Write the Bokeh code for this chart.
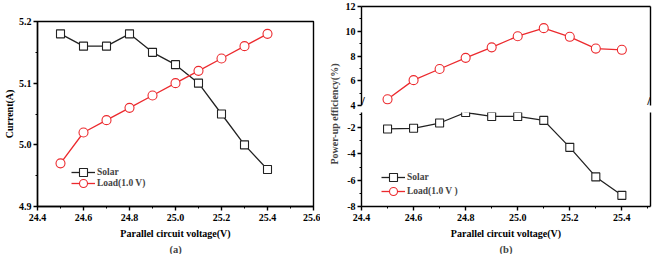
from bokeh.plotting import figure
from bokeh.models import (Range1d, LinearAxis, FixedTicker, Label, Legend, LegendItem,
                          NumeralTickFormatter, Title)
from bokeh.layouts import row, column
from bokeh.embed import file_html
from bokeh.resources import INLINE

# ---------------- data ----------------
voltage = [24.5, 24.6, 24.7, 24.8, 24.9, 25.0, 25.1, 25.2, 25.3, 25.4]
current_solar = [5.18, 5.16, 5.16, 5.18, 5.15, 5.13, 5.10, 5.05, 5.00, 4.96]
current_load = [4.97, 5.02, 5.04, 5.06, 5.08, 5.10, 5.12, 5.14, 5.16, 5.18]
eff_solar = [-2.1, -2.05, -1.65, -0.85, -1.15, -1.15, -1.45, -3.5, -5.75, -7.15]
eff_load = [4.5, 6.05, 6.95, 7.85, 8.7, 9.6, 10.25, 9.55, 8.6, 8.5]

x_ticks_a = [24.4, 24.6, 24.8, 25.0, 25.2, 25.4, 25.6]
x_minor_a = [24.5, 24.7, 24.9, 25.1, 25.3, 25.5]
y_ticks_a = [4.9, 5.0, 5.1, 5.2]
y_minor_a = [4.95, 5.05, 5.15]
x_ticks_b = [24.4, 24.6, 24.8, 25.0, 25.2, 25.4]
x_minor_b = [24.5, 24.7, 24.9, 25.1, 25.3, 25.5]
y_ticks_up = [4, 6, 8, 10, 12]
y_minor_up = [5, 7, 9, 11]
y_ticks_low = [-8, -6, -4, -2]
y_minor_low = [-7, -5, -3, -1]

series_names = ["Solar", "Load(1.0 V)"]
series_names_b = ["Solar", "Load(1.0 V )"]
x_title = "Parallel circuit voltage(V)"
y_title_a = "Current(A)"
y_title_b = "Power-up efficiency(%)"
panel_a = "(a)"
panel_b = "(b)"

# ---------------- style ----------------
FONT = "Liberation Serif"
BLACK = "#222222"
RED = "#ec2a2e"
LW = 1.3
AX_W = 1.4


def style_axis(ax, fmt=None):
    ax.axis_line_width = AX_W
    ax.axis_line_color = "black"
    ax.major_tick_line_color = "black"
    ax.major_tick_line_width = AX_W
    ax.minor_tick_line_color = "black"
    ax.minor_tick_line_width = 1
    ax.major_tick_in = 0
    ax.major_tick_out = 4
    ax.minor_tick_in = 0
    ax.minor_tick_out = 2
    ax.major_label_text_font = FONT
    ax.major_label_text_font_style = "bold"
    ax.major_label_text_font_size = "10px"
    ax.major_label_text_color = "black"
    ax.axis_label_text_font = FONT
    ax.axis_label_text_font_style = "bold"
    ax.axis_label_text_font_size = "10px"
    ax.axis_label_text_color = "black"
    if fmt is not None:
        ax.formatter = NumeralTickFormatter(format=fmt)


def blank_axis(p, side):
    ax = LinearAxis(ticker=FixedTicker(ticks=[]), major_label_text_font_size="0px",
                    major_tick_in=0, major_tick_out=0, minor_tick_in=0, minor_tick_out=0,
                    major_label_standoff=0, axis_line_width=AX_W, axis_line_color="black")
    p.add_layout(ax, side)
    return ax


def panel_title(text):
    return Title(text=text, align="center", text_font=FONT, text_font_style="bold",
                 text_font_size="10.5px", standoff=0, offset=0)


def one_legend(label, renderers, loc):
    return Legend(items=[LegendItem(label=label, renderers=renderers)],
                  location=loc, background_fill_alpha=0, border_line_color=None,
                  padding=0, margin=0, spacing=0, glyph_width=24, glyph_height=20,
                  label_height=20, label_standoff=2, label_text_font=FONT,
                  label_text_font_style="bold", label_text_font_size="9.5px")


# ---------------- chart (a) ----------------
pa = figure(width=320, height=254, x_range=Range1d(24.4, 25.6), y_range=Range1d(4.9, 5.2),
            output_backend="svg", toolbar_location=None,
            min_border_left=29, min_border_right=7, min_border_top=7, min_border_bottom=47)
pa.grid.visible = False
pa.outline_line_color = "black"
pa.outline_line_width = AX_W

pa.xaxis.ticker = FixedTicker(ticks=x_ticks_a, minor_ticks=x_minor_a)
pa.yaxis.ticker = FixedTicker(ticks=y_ticks_a, minor_ticks=y_minor_a)
for ax in pa.xaxis:
    style_axis(ax, "0.0")
    ax.axis_label = x_title
    ax.major_label_standoff = 3
    ax.axis_label_standoff = 4
for ax in pa.yaxis:
    style_axis(ax, "0.0")
    ax.axis_label = y_title_a
    ax.major_label_standoff = 2
    ax.axis_label_standoff = 1
pa.add_layout(panel_title(panel_a), "below")

ls_a = pa.line(voltage, current_solar, line_color=BLACK, line_width=LW)
ms_a = pa.scatter(voltage, current_solar, marker="square", size=8, line_color=BLACK,
                  fill_color="white", line_width=1.1)
ll_a = pa.line(voltage, current_load, line_color=RED, line_width=LW)
ml_a = pa.scatter(voltage, current_load, marker="circle", size=9, line_color=RED,
                  fill_color="white", line_width=1.1)

pa.add_layout(one_legend(series_names[0], [ls_a, ms_a], (34, 24)))
pa.add_layout(one_legend(series_names[1], [ll_a, ml_a], (34, 13)))

# ---------------- y title of chart (b) (its own slim panel) ----------------
pt = figure(width=22, height=254, x_range=Range1d(0, 1), y_range=Range1d(0, 1),
            output_backend="svg", toolbar_location=None,
            min_border_left=20, min_border_right=0, min_border_top=21, min_border_bottom=47)
pt.grid.visible = False
pt.outline_line_color = None
pt.xaxis.visible = False
for ax in pt.yaxis:
    ax.ticker = FixedTicker(ticks=[])
    ax.axis_line_color = None
    ax.major_tick_line_color = None
    ax.minor_tick_line_color = None
    ax.major_label_text_font_size = "0px"
    ax.major_label_standoff = 0
    ax.major_tick_out = 0
    ax.minor_tick_out = 0
    ax.axis_label = y_title_b
    ax.axis_label_standoff = 1
    ax.axis_label_text_font = FONT
    ax.axis_label_text_font_style = "bold"
    ax.axis_label_text_font_size = "10px"

# ---------------- chart (b), broken y axis ----------------
xr_b = Range1d(24.4, 25.51)

pu = figure(width=312, height=112, x_range=xr_b, y_range=Range1d(4, 12),
            output_backend="svg", toolbar_location=None,
            min_border_left=19, min_border_right=4, min_border_top=6, min_border_bottom=7)
pu.grid.visible = False
pu.outline_line_color = None
pu.xaxis.visible = False
pu.yaxis.ticker = FixedTicker(ticks=y_ticks_up, minor_ticks=y_minor_up)
for ax in pu.yaxis:
    style_axis(ax, "0")
    ax.major_label_standoff = 2
blank_axis(pu, "above")
blank_axis(pu, "right")
pu.line(voltage, eff_load, line_color=RED, line_width=LW)
pu.scatter(voltage, eff_load, marker="circle", size=9, line_color=RED,
           fill_color="white", line_width=1.1)
for xb in (24.4, 25.51):
    pu.add_layout(Label(x=xb, y=4.35, text="//", text_font=FONT, text_font_size="12px",
                        text_font_style="bold", text_align="center", text_baseline="middle",
                        text_color="black"))

pl = figure(width=312, height=142, x_range=xr_b, y_range=Range1d(-8, -0.85),
            output_backend="svg", toolbar_location=None,
            min_border_left=19, min_border_right=4, min_border_top=0, min_border_bottom=47)
pl.grid.visible = False
pl.outline_line_color = None
pl.xaxis.ticker = FixedTicker(ticks=x_ticks_b, minor_ticks=x_minor_b)
pl.yaxis.ticker = FixedTicker(ticks=y_ticks_low, minor_ticks=y_minor_low)
for ax in pl.xaxis:
    style_axis(ax, "0.0")
    ax.axis_label = x_title
    ax.major_label_standoff = 3
    ax.axis_label_standoff = 4
for ax in pl.yaxis:
    style_axis(ax, "0")
    ax.major_label_standoff = 2
blank_axis(pl, "right")
pl.add_layout(panel_title(panel_b), "below")

ls_b = pl.line(voltage, eff_solar, line_color=BLACK, line_width=LW)
ms_b = pl.scatter(voltage, eff_solar, marker="square", size=8, line_color=BLACK,
                  fill_color="white", line_width=1.1)
# load series also drawn here (above this panel's range, so clipped) to feed the legend
ll_b = pl.line(voltage, eff_load, line_color=RED, line_width=LW)
ml_b = pl.scatter(voltage, eff_load, marker="circle", size=9, line_color=RED,
                  fill_color="white", line_width=1.1)

pl.add_layout(one_legend(series_names_b[0], [ls_b, ms_b], (20, 19)))
pl.add_layout(one_legend(series_names_b[1], [ll_b, ml_b], (20, 5)))

layout = row(pa, pt, column(pu, pl, spacing=0), spacing=0)

open("out.html", "w").write(file_html(layout, INLINE))
